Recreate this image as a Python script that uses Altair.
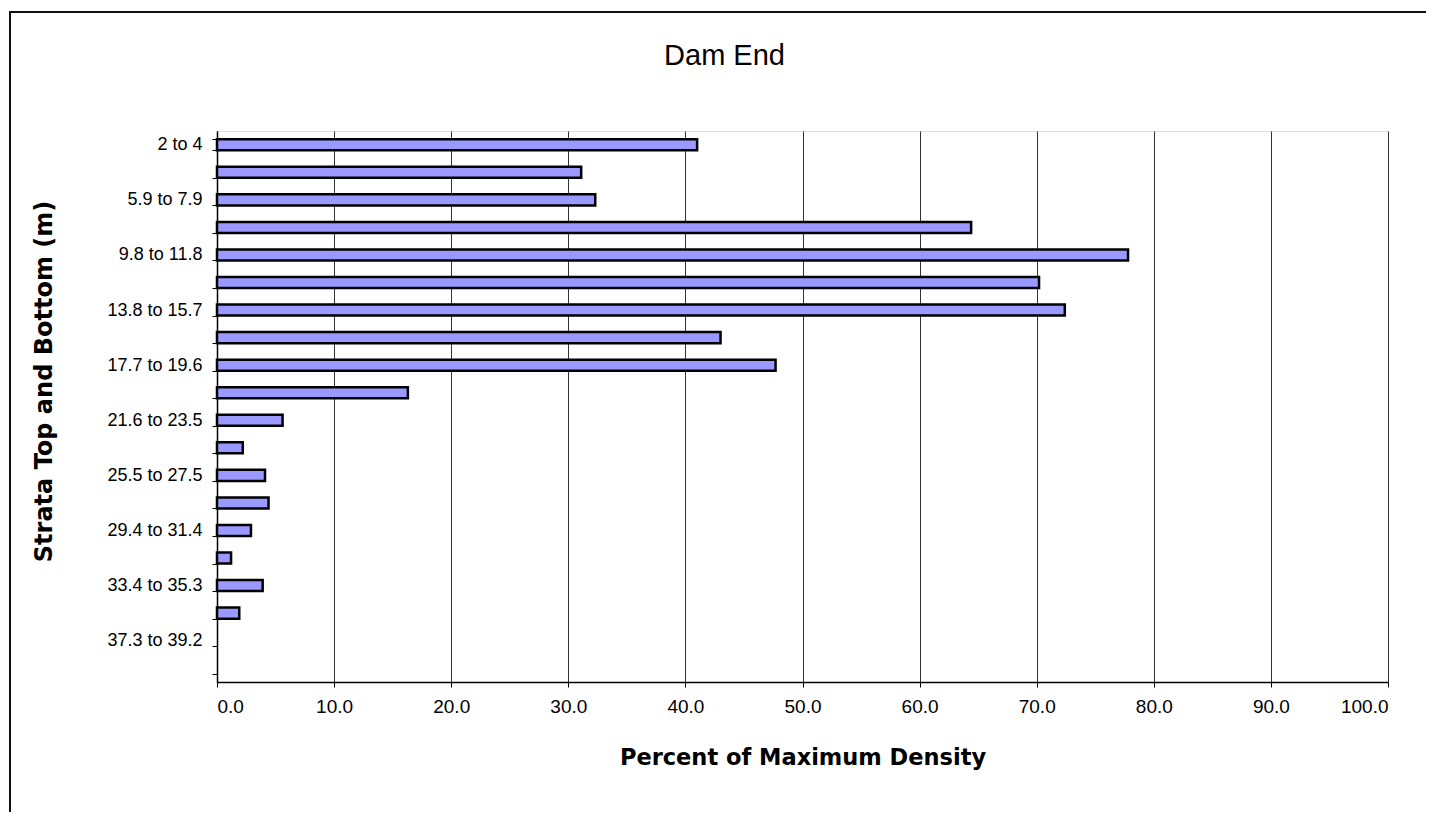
import altair as alt
import pandas as pd

# Data
categories = [
    "2 to 4", "4 to 5.9", "5.9 to 7.9", "7.9 to 9.8", "9.8 to 11.8",
    "11.8 to 13.8", "13.8 to 15.7", "15.7 to 17.7", "17.7 to 19.6",
    "19.6 to 21.6", "21.6 to 23.5", "23.5 to 25.5", "25.5 to 27.5",
    "27.5 to 29.4", "29.4 to 31.4", "31.4 to 33.4", "33.4 to 35.3",
    "35.3 to 37.3", "37.3 to 39.2", "39.2 to 41.2",
]
values = [
    41.0, 31.1, 32.3, 64.4, 77.8, 70.2, 72.4, 43.0, 47.7,
    16.3, 5.6, 2.2, 4.1, 4.4, 2.9, 1.2, 3.9, 1.9,
]
shown_labels = categories[0::2]
x_ticks = [0, 10, 20, 30, 40, 50, 60, 70, 80, 90, 100]

df = pd.DataFrame({"strata": categories[: len(values)], "pct": values})

label_list = ", ".join("'" + s + "'" for s in shown_labels)
label_expr = f"indexof([{label_list}], datum.label) >= 0 ? datum.label : ''"

bars = alt.Chart(df).mark_bar(
    fill="#9999FF", stroke="#000000", strokeWidth=2.5
).encode(
    x=alt.X(
        "pct:Q",
        scale=alt.Scale(domain=[0, 100], nice=False),
        axis=alt.Axis(
            values=x_ticks,
            format=".1f",
            grid=True,
            gridColor="#333333",
            gridWidth=1,
            domainColor="#000000",
            domainWidth=1.5,
            tickColor="#000000",
            tickSize=5,
            labelFont="Liberation Sans",
            labelFontSize=19,
            labelColor="#000000",
            labelPadding=10,
            title="Percent of Maximum Density",
            titleFont="DejaVu Sans",
            titleFontWeight="bold",
            titleFontSize=22.5,
            titleColor="#000000",
            titleBaseline="alphabetic",
            titleY=82,
        ),
    ),
    y=alt.Y(
        "strata:N",
        sort=categories,
        scale=alt.Scale(domain=categories, paddingInner=0.6, paddingOuter=0.3),
        axis=alt.Axis(
            labelExpr=label_expr,
            tickBand="extent",
            grid=False,
            domainColor="#000000",
            domainWidth=1.5,
            tickColor="#000000",
            tickSize=5,
            labelFont="Liberation Sans",
            labelFontSize=18,
            labelColor="#000000",
            labelPadding=10,
            title="Strata Top and Bottom (m)",
            titleFont="DejaVu Sans",
            titleFontWeight="bold",
            titleFontSize=24,
            titleColor="#000000",
            titleAngle=270,
            titleAlign="center",
            titleBaseline="middle",
            titleX=-173,
            titleY=250,
        ),
    ),
)

frame_df = pd.DataFrame({"a": [0]})
left_frame = alt.Chart(frame_df).mark_rule(color="#111111", strokeWidth=2).encode(
    x=alt.value(-207), y=alt.value(-119), y2=alt.value(700)
)
top_frame = alt.Chart(frame_df).mark_rule(color="#111111", strokeWidth=2).encode(
    x=alt.value(-208), x2=alt.value(1240), y=alt.value(-119)
)

chart = alt.layer(bars, left_frame, top_frame).properties(
    width=1171,
    height=551,
    autosize=alt.AutoSizeParams(type="none"),
    padding={"left": 209, "top": 123, "right": 38, "bottom": 130},
    title=alt.TitleParams(
        text="Dam End",
        anchor="middle",
        dx=-78,
        offset=-83,
        baseline="alphabetic",
        font="Liberation Sans",
        fontSize=29,
        fontWeight="normal",
        color="#000000",
    ),
).configure_view(
    stroke="#999999", strokeWidth=1
).configure(background="white")

chart.save("out.html", embed_options={"renderer": "svg", "actions": False})
